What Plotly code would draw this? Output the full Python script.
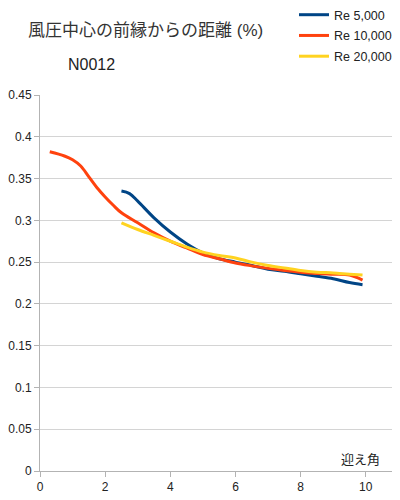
import plotly.graph_objects as go

x_re5000 = [2.5, 2.75, 3.0, 3.5, 4.0, 4.5, 5.0, 5.5, 6.0, 6.5, 7.0, 7.5, 8.0, 8.5, 9.0, 9.5, 9.9]
y_re5000 = [0.335, 0.332, 0.323, 0.303, 0.286, 0.272, 0.261, 0.254, 0.250, 0.246, 0.2415, 0.239, 0.236, 0.233, 0.230, 0.2255, 0.223]

x_re10000 = [0.3, 0.75, 1.0, 1.25, 1.5, 1.75, 2.0, 2.25, 2.5, 3.0, 3.5, 4.0, 4.5, 5.0, 5.5, 6.0, 6.5, 7.0, 7.5, 8.0, 8.5, 9.0, 9.5, 9.9]
y_re10000 = [0.382, 0.377, 0.3725, 0.365, 0.352, 0.339, 0.328, 0.318, 0.309, 0.297, 0.285, 0.275, 0.267, 0.259, 0.254, 0.249, 0.2455, 0.2425, 0.240, 0.238, 0.2365, 0.2355, 0.2345, 0.2285]

x_re20000 = [2.5, 3.0, 3.5, 4.0, 4.5, 5.0, 5.5, 6.0, 6.5, 7.0, 7.5, 8.0, 8.5, 9.0, 9.5, 9.9]
y_re20000 = [0.297, 0.289, 0.282, 0.275, 0.268, 0.262, 0.258, 0.255, 0.250, 0.246, 0.243, 0.240, 0.238, 0.237, 0.2355, 0.2345]

series_names = ["Re 5,000", "Re 10,000", "Re 20,000"]
series_colors = ["#004586", "#ff420e", "#ffd320"]

x_ticks = [0, 2, 4, 6, 8, 10]
y_ticks = [0, 0.05, 0.1, 0.15, 0.2, 0.25, 0.3, 0.35, 0.4, 0.45]
y_tick_text = ["0", "0.05", "0.1", "0.15", "0.2", "0.25", "0.3", "0.35", "0.4", "0.45"]

FONT = "Liberation Sans, Arial, Noto Sans CJK JP, sans-serif"

# page body has an 8px margin; plot area in page pixels: left 40, top 94.7, right 400, bottom 471
PLOT_H = 376.3

fig = go.Figure()
for i, (xs, ys, name, color) in enumerate(zip(
    [x_re5000, x_re10000, x_re20000],
    [y_re5000, y_re10000, y_re20000],
    series_names, series_colors,
)):
    fig.add_trace(go.Scatter(
        x=xs, y=ys, name=name, mode="lines", legendgroup=f"g{i}",
        line=dict(color=color, width=3, shape="spline", smoothing=1.0),
    ))

fig.update_layout(
    width=392, height=492,
    margin=dict(l=32, r=0, t=86.7, b=29, autoexpand=False),
    paper_bgcolor="white", plot_bgcolor="white",
    font=dict(family=FONT, size=12, color="#222"),
    showlegend=True,
    legend=dict(
        x=(294 - 40) / 360, y=1 + 95 / PLOT_H, xanchor="left", yanchor="top",
        font=dict(size=12.5, color="#222"),
        bgcolor="rgba(0,0,0,0)", tracegroupgap=1.5,
        itemwidth=30, borderwidth=0,
    ),
    xaxis=dict(
        range=[0, 11.05], tickvals=x_ticks, ticktext=[str(v) for v in x_ticks],
        showgrid=False, zeroline=False,
        showline=True, linecolor="#b3b3b3", linewidth=1,
        ticks="outside", ticklen=5, tickcolor="#b3b3b3",
        tickfont=dict(size=12, color="#222"),
    ),
    yaxis=dict(
        range=[0, 0.45], tickvals=y_ticks, ticktext=y_tick_text,
        showgrid=True, gridcolor="#d4d4d4", gridwidth=1, zeroline=False,
        showline=True, linecolor="#b3b3b3", linewidth=1,
        ticks="outside", ticklen=5, tickcolor="#b3b3b3",
        tickfont=dict(size=12, color="#222"),
    ),
    annotations=[
        dict(text="風圧中心の前縁からの距離 (%)", xref="paper", yref="paper",
             x=(145 - 40) / 360, y=(471 - 30) / PLOT_H, xanchor="center", yanchor="middle",
             showarrow=False, font=dict(size=17, color="#333")),
        dict(text="N0012", xref="paper", yref="paper",
             x=(91 - 40) / 360, y=(471 - 64) / PLOT_H, xanchor="center", yanchor="middle",
             showarrow=False, font=dict(size=16, color="#222")),
        dict(text="迎え角", xref="paper", yref="paper",
             x=(360 - 40) / 360, y=(471 - 459) / PLOT_H, xanchor="center", yanchor="middle",
             showarrow=False, font=dict(size=13, color="#222")),
    ],
)

fig.write_html("out.html")
